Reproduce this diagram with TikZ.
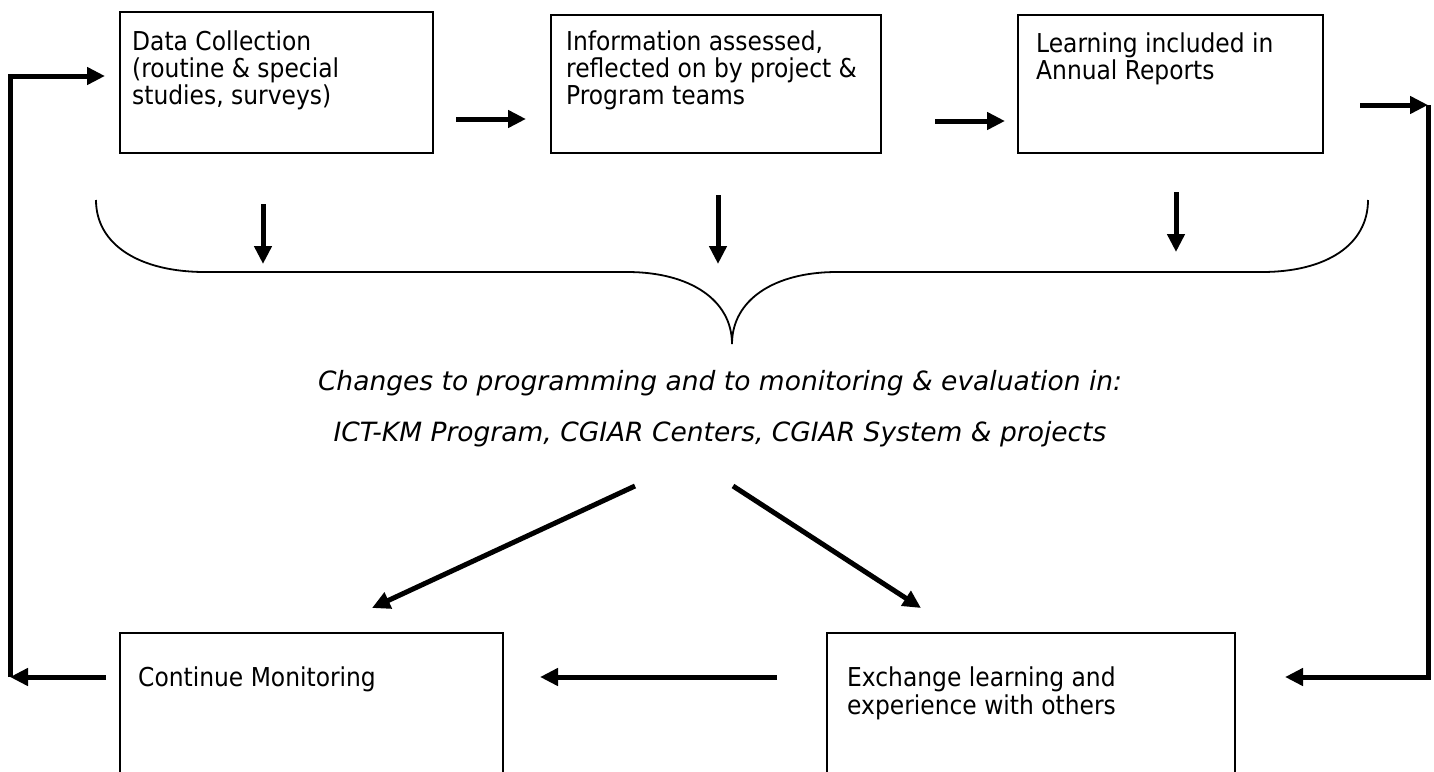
\documentclass[tikz,border=0pt]{standalone}
\usepackage{fontspec}
\setmainfont{DejaVu Sans Condensed}
\newfontfamily\obliquefont{DejaVu Sans}
\usetikzlibrary{arrows.meta}

\tikzset{
  stepbox/.style={draw=black, line width=1.6pt, inner sep=0pt, anchor=north west},
  % multi-line labels are placed by the baseline of their last line
  boxtext/.style={anchor=base west, inner sep=0pt, align=left,
                  font=\fontsize{26}{27}\selectfont},
  tip/.style={-{Triangle[length=18pt,width=17pt]}},
  flow/.style={line width=5pt, tip},
  loopline/.style={line width=5pt},
  brace/.style={line width=1.8pt}
}

\begin{document}
\begin{tikzpicture}[x=1pt,y=-1pt]
\useasboundingbox (0,0) rectangle (1434,771);
\clip (0,0) rectangle (1434,771);

% process boxes
\node[stepbox, minimum width=313pt, minimum height=141pt] (b1) at (119,11) {};
\node[stepbox, minimum width=330pt, minimum height=138pt] (b2) at (550,14) {};
\node[stepbox, minimum width=305pt, minimum height=138pt] (b3) at (1017,14) {};
\node[stepbox, minimum width=383pt, minimum height=180pt] (b4) at (119,632) {};
\node[stepbox, minimum width=408pt, minimum height=180pt] (b5) at (826,632) {};

% box labels
\node[boxtext] (t1) at (132,104) {Data Collection\\(routine \& special\\studies, surveys)};
\node[boxtext] (t2) at (566,104) {Information assessed,\\reflected on by project \&\\Program teams};
\node[boxtext] (t3) at (1036,79) {Learning included in\\Annual Reports};
\node[boxtext] (t4) at (138,686) {Continue Monitoring};
\node[boxtext, font=\fontsize{26}{28}\selectfont] (t5) at (847,714) {Exchange learning and\\experience with others};

% outcome statement
\node[anchor=base, inner sep=0pt, align=center,
      font=\obliquefont\itshape\fontsize{26.5}{51}\selectfont] (chg) at (720,441)
  {Changes to programming and to monitoring \& evaluation in:\\
   ICT-KM Program, CGIAR Centers, CGIAR System \& projects};

% arrow end points
\coordinate (a12s) at (456,119);  \coordinate (a12e) at (526,119);
\coordinate (a23s) at (935,121);  \coordinate (a23e) at (1005,121);
\coordinate (r0) at (1360,105);   \coordinate (r1) at (1428,105);
\coordinate (r2) at (1428,677);   \coordinate (r3) at (1285,677);
\coordinate (m0) at (777,677);    \coordinate (m1) at (540,677);
\coordinate (l0) at (106,677);    \coordinate (l1) at (10,677);
\coordinate (l2) at (10,76);      \coordinate (l3) at (105,76);
\coordinate (d1s) at (263,204);   \coordinate (d1e) at (263,264);
\coordinate (d2s) at (718,195);   \coordinate (d2e) at (718,264);
\coordinate (d3s) at (1176,192);  \coordinate (d3e) at (1176,252);
\coordinate (g1s) at (635,486);   \coordinate (g1e) at (372,608);
\coordinate (g2s) at (733,486);   \coordinate (g2e) at (921,608);

% top row flow
\draw[flow] (a12s) -- (a12e);
\draw[flow] (a23s) -- (a23e);

% right-hand loop down to the exchange box
\draw[flow] (r0) -- (r1);
\draw[loopline, tip] (r1) -- (r2) -- (r3);

% bottom row and left-hand loop back to data collection
\draw[flow] (m0) -- (m1);
\draw[flow] (l0) -- (l1);
\draw[loopline, tip] (l1) -- (l2) -- (l3);

% arrows into the brace
\draw[flow] (d1s) -- (d1e);
\draw[flow] (d2s) -- (d2e);
\draw[flow] (d3s) -- (d3e);

% brace gathering the three steps
\draw[brace] (96,200) .. controls (96,245) and (140,272) .. (205,272)
  -- (627,272) .. controls (690,272) and (732,300) .. (732,344)
  .. controls (732,300) and (774,272) .. (837,272)
  -- (1262,272) .. controls (1326,272) and (1368,245) .. (1368,200);

% split into the two follow-up actions
\draw[flow] (g1s) -- (g1e);
\draw[flow] (g2s) -- (g2e);
\end{tikzpicture}
\end{document}
